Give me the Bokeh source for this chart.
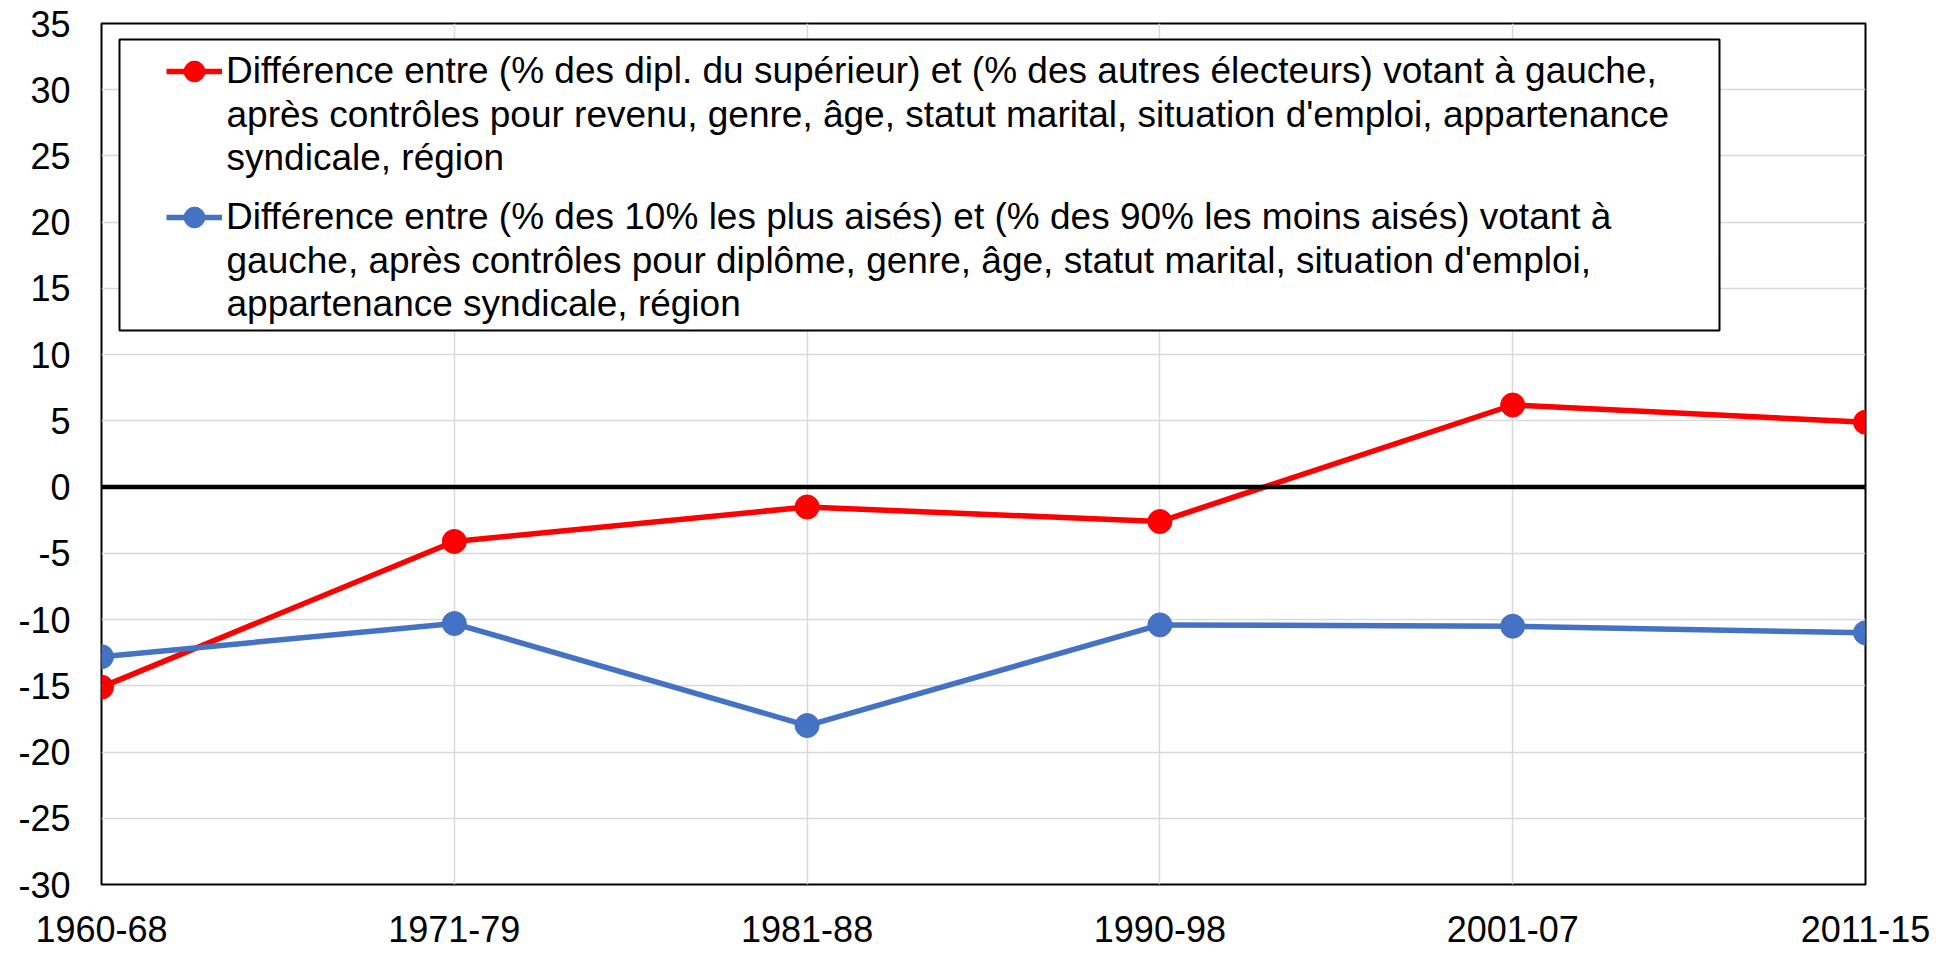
from bokeh.plotting import figure
from bokeh.models import Range1d, FixedTicker, Span, Legend, LegendItem, BoxAnnotation, Label
from bokeh.embed import file_html
from bokeh.resources import INLINE

# ---- data ----
periods = ["1960-68", "1971-79", "1981-88", "1990-98", "2001-07", "2011-15"]
educ_gap = [-15.1, -4.1, -1.5, -2.6, 6.2, 4.9]
income_gap = [-12.8, -10.3, -18.0, -10.4, -10.5, -11.0]
y_ticks = [-30, -25, -20, -15, -10, -5, 0, 5, 10, 15, 20, 25, 30, 35]
educ_lines = ["Différence entre (% des dipl. du supérieur) et (% des autres électeurs) votant à gauche,",
              "après contrôles pour revenu, genre, âge, statut marital, situation d'emploi, appartenance",
              "syndicale, région"]
income_lines = ["Différence entre (% des 10% les plus aisés) et (% des 90% les moins aisés) votant à",
                "gauche, après contrôles pour diplôme, genre, âge, statut marital, situation d'emploi,",
                "appartenance syndicale, région"]
zero_level = 0

FONT = "Liberation Sans"
RED = "#FF0000"
BLUE = "#4472C4"

W, H = 1950, 956
B_LEFT, B_TOP, B_RIGHT, B_BOTTOM = 101, 23, 85, 72
FRAME_H = H - B_TOP - B_BOTTOM

x_pos = list(range(len(periods)))

p = figure(width=W, height=H, output_backend="svg", toolbar_location=None,
           x_range=Range1d(0, len(periods) - 1), y_range=Range1d(y_ticks[0], y_ticks[-1]),
           min_border_left=B_LEFT, min_border_right=B_RIGHT,
           min_border_top=B_TOP, min_border_bottom=B_BOTTOM,
           background_fill_color="white", border_fill_color="white")

p.outline_line_color = "black"
p.outline_line_width = 2

# axes
p.xaxis.ticker = FixedTicker(ticks=x_pos)
p.xaxis.major_label_overrides = {i: lab for i, lab in enumerate(periods)}
p.yaxis.ticker = FixedTicker(ticks=y_ticks)
p.yaxis.major_label_overrides = {v: str(v) for v in y_ticks}
for ax in (p.xaxis[0], p.yaxis[0]):
    ax.axis_line_color = None
    ax.major_tick_line_color = None
    ax.minor_tick_line_color = None
    ax.major_tick_out = 0
    ax.major_tick_in = 0
    ax.major_label_text_font = FONT
    ax.major_label_text_font_size = "36px"
    ax.major_label_text_color = "black"
p.yaxis.major_label_standoff = 31
p.xaxis.major_label_standoff = 31

# grids
p.xgrid.ticker = FixedTicker(ticks=x_pos)
p.ygrid.ticker = FixedTicker(ticks=y_ticks)
for g in (p.xgrid[0], p.ygrid[0]):
    g.grid_line_color = "#D9D9D9"
    g.grid_line_width = 1.5

# zero line
p.add_layout(Span(location=zero_level, dimension="width", line_color="black", line_width=4.5))

# series
r1l = p.line(x_pos, educ_gap, line_color=RED, line_width=5.5)
r1m = p.scatter(x_pos, educ_gap, size=24, fill_color=RED, line_color=RED)
r2l = p.line(x_pos, income_gap, line_color=BLUE, line_width=5.5)
r2m = p.scatter(x_pos, income_gap, size=24, fill_color=BLUE, line_color=BLUE)

# legend frame (screen units relative to frame bottom-left)
box = BoxAnnotation(left=18, right=1618, top=FRAME_H - 16, bottom=FRAME_H - 307,
                    left_units="screen", right_units="screen",
                    top_units="screen", bottom_units="screen",
                    fill_color="white", fill_alpha=1.0,
                    line_color="black", line_alpha=1.0, line_width=2)
p.add_layout(box)

GLYPH_H = 52
ITEM_PITCH = 146
legend = Legend(items=[LegendItem(label=educ_lines[0], renderers=[r1l, r1m]),
                       LegendItem(label=income_lines[0], renderers=[r2l, r2m])],
                location=(65, FRAME_H - (47.7 - GLYPH_H / 2) - (2 * GLYPH_H + ITEM_PITCH - GLYPH_H)))
legend.border_line_color = None
legend.background_fill_alpha = 0
legend.padding = 0
legend.margin = 0
legend.spacing = ITEM_PITCH - GLYPH_H
legend.glyph_width = 56
legend.glyph_height = GLYPH_H
legend.label_standoff = 4
legend.label_text_font = FONT
legend.label_text_font_size = "37px"
legend.label_text_color = "black"
p.add_layout(legend)

# continuation lines of the legend entries
for lines, top_off in ((educ_lines, 70.7), (income_lines, 70.7 + ITEM_PITCH)):
    p.add_layout(Label(x=125, y=FRAME_H - top_off, x_units="screen", y_units="screen",
                       text="\n".join(lines[1:]), text_font=FONT, text_font_size="37px",
                       text_color="black", text_baseline="top", text_align="left",
                       text_line_height=1.05))

open("out.html", "w").write(file_html(p, INLINE))
